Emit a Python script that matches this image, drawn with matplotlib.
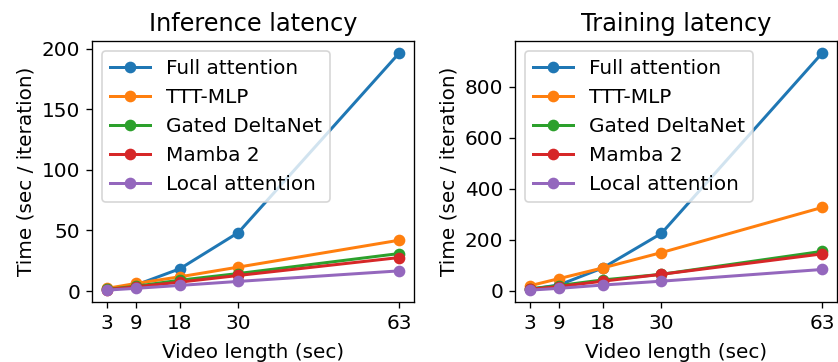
import matplotlib.pyplot as plt

video_len = [3, 9, 18, 30, 63]
methods = ["Full attention", "TTT-MLP", "Gated DeltaNet", "Mamba 2", "Local attention"]

inference = {
    "Full attention": [1.4, 5, 18.4, 48.3, 196.5],
    "TTT-MLP": [2.2, 6.3, 11.8, 19.8, 42],
    "Gated DeltaNet": [1.4, 4, 9, 14.5, 31],
    "Mamba 2": [1.2, 3.5, 7.4, 12.9, 27.7],
    "Local attention": [0.8, 2.3, 4.7, 8, 16.7],
}
training = {
    "Full attention": [7, 23, 90, 225, 932],
    "TTT-MLP": [20, 48, 90, 150, 327],
    "Gated DeltaNet": [7, 21, 43, 65, 155],
    "Mamba 2": [6, 17, 38, 65, 145],
    "Local attention": [3, 10, 23, 38, 84],
}

plt.rcParams['font.size'] = 12
fig = plt.figure(figsize=(8.38 / 1.2, 3.62 / 1.2), dpi=120)
ax1 = fig.add_axes([92 / 838, 60 / 362, 322 / 838, 261 / 362])
ax2 = fig.add_axes([515 / 838, 60 / 362, 322 / 838, 261 / 362])

for ax, data, title in zip([ax1, ax2], [inference, training], ["Inference latency", "Training latency"]):
    for m in methods:
        ax.plot(video_len, data[m], marker='o', lw=1.8, label=m)
    ax.set_title(title)
    ax.set_xlabel("Video length (sec)", labelpad=6)
    ax.set_ylabel("Time (sec / iteration)")
    ax.set_xticks(video_len)
    ax.legend(loc='upper left')

fig.savefig("out.png", dpi=120)
